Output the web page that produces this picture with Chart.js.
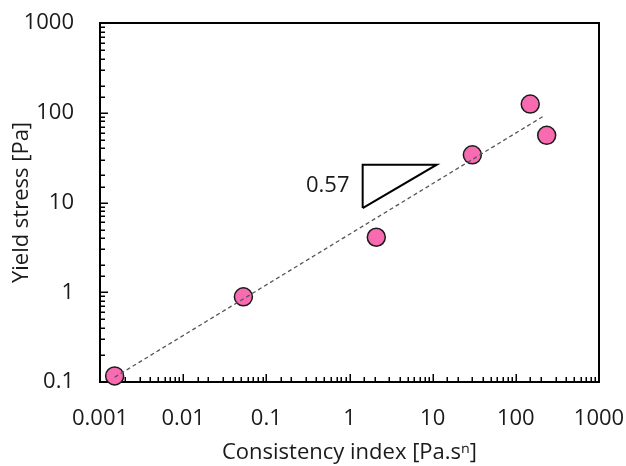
<!DOCTYPE html>
<html><head><meta charset="utf-8">
<script src="https://cdn.jsdelivr.net/npm/chart.js@4/dist/chart.umd.min.js"></script>
<style>html,body{margin:0;padding:0;background:#fff}</style>
</head><body>
<canvas id="c" width="626" height="466"></canvas>
<script>
// ---- data ----
const consistencyIndex = [0.0015, 0.053, 2.1, 30, 149, 235];
const yieldStress      = [0.117, 0.89, 4.1, 34, 125, 56];
const trendX = [0.0015, 225];
const trendY = [0.113, 94];
const triangleX = [1.44, 11.2, 1.44, 1.44];
const triangleY = [8.66, 26.4, 26.4, 8.66];
const slopeLabel = '0.57';
const slopeLabelX = 1.0;
const slopeLabelY = 15.4;
const xTickValues = [0.001, 0.01, 0.1, 1, 10, 100, 1000];
const xTickLabels = ['0.001', '0.01', '0.1', '1', '10', '100', '1000'];
const yTickValues = [0.1, 1, 10, 100, 1000];
const yTickLabels = ['0.1', '1', '10', '100', '1000'];
const xTitle = 'Consistency index [Pa.s\u207F]';
const yTitle = 'Yield stress [Pa]';

const FONT = "'Open Sans', 'DejaVu Sans', sans-serif";
const TXT = '#1a1a1a';

function findIdx(vals, v) {
  for (let i = 0; i < vals.length; i++) {
    if (Math.abs(Math.log10(v) - Math.log10(vals[i])) < 1e-6) return i;
  }
  return -1;
}
function toPts(xs, ys) { return xs.map((x, i) => ({x: x, y: ys[i]})); }

const frame = {
  id: 'frame',
  beforeDatasetsDraw(chart) {
    const {ctx, chartArea: a, scales: {x, y}} = chart;
    ctx.save();
    ctx.strokeStyle = '#000';
    ctx.lineWidth = 1.5;
    x.ticks.forEach(t => {
      const major = findIdx(xTickValues, t.value) >= 0;
      const px = Math.round(x.getPixelForValue(t.value)) + 0.25;
      ctx.beginPath();
      ctx.moveTo(px, a.bottom);
      ctx.lineTo(px, a.bottom - (major ? 8 : 5));
      ctx.stroke();
    });
    y.ticks.forEach(t => {
      const major = findIdx(yTickValues, t.value) >= 0;
      const py = Math.round(y.getPixelForValue(t.value)) + 0.25;
      ctx.beginPath();
      ctx.moveTo(a.left, py);
      ctx.lineTo(a.left + (major ? 8 : 5), py);
      ctx.stroke();
    });
    ctx.lineWidth = 2;
    ctx.strokeRect(a.left, a.top, a.right - a.left, a.bottom - a.top);
    ctx.restore();
  },
  afterDatasetsDraw(chart) {
    const {ctx, scales: {x, y}} = chart;
    ctx.save();
    ctx.fillStyle = TXT;
    ctx.font = '22px ' + FONT;
    ctx.textAlign = 'right';
    ctx.textBaseline = 'middle';
    ctx.fillText(slopeLabel, x.getPixelForValue(slopeLabelX), y.getPixelForValue(slopeLabelY));
    ctx.restore();
  }
};

function zeroPad(s) { s.paddingLeft = 0; s.paddingRight = 0; s.paddingTop = 0; s.paddingBottom = 0; }

new Chart(document.getElementById('c'), {
  type: 'scatter',
  data: {
    datasets: [
      {
        data: toPts(trendX, trendY),
        showLine: true,
        borderColor: '#555',
        borderWidth: 1.3,
        borderDash: [4, 3],
        pointRadius: 0,
        order: 0,
        clip: false
      },
      {
        data: toPts(triangleX, triangleY),
        showLine: true,
        borderColor: '#000',
        borderWidth: 2,
        pointRadius: 0,
        order: 0,
        clip: false
      },
      {
        data: toPts(consistencyIndex, yieldStress),
        pointRadius: 9,
        pointBackgroundColor: '#F86BB0',
        pointBorderColor: '#1a1a1a',
        pointBorderWidth: 1.5,
        order: 1,
        clip: false
      }
    ]
  },
  options: {
    responsive: false,
    animation: false,
    devicePixelRatio: 1,
    layout: {padding: {left: 0, right: 27, top: 23, bottom: 0}},
    plugins: {legend: {display: false}, tooltip: {enabled: false}},
    scales: {
      x: {
        type: 'logarithmic',
        min: 0.001, max: 1000,
        grid: {display: false, drawTicks: false},
        border: {display: false},
        afterFit(s) { s.height = 84; zeroPad(s); },
        ticks: {
          autoSkip: false, maxRotation: 0, padding: 24,
          color: TXT, font: {family: FONT, size: 22},
          callback: v => { const i = findIdx(xTickValues, v); return i >= 0 ? xTickLabels[i] : ''; }
        },
        title: {display: true, text: xTitle, color: TXT, font: {family: FONT, size: 22}, padding: {top: 0, bottom: 0}}
      },
      y: {
        type: 'logarithmic',
        min: 0.1, max: 1000,
        grid: {display: false, drawTicks: false},
        border: {display: false},
        afterFit(s) { s.width = 100; zeroPad(s); },
        ticks: {
          autoSkip: false, padding: 26,
          color: TXT, font: {family: FONT, size: 22},
          callback: v => { const i = findIdx(yTickValues, v); return i >= 0 ? yTickLabels[i] : ''; }
        },
        title: {display: true, text: yTitle, color: TXT, font: {family: FONT, size: 22}, padding: {top: 9, bottom: 0}}
      }
    }
  },
  plugins: [frame]
});
</script>
</body></html>
